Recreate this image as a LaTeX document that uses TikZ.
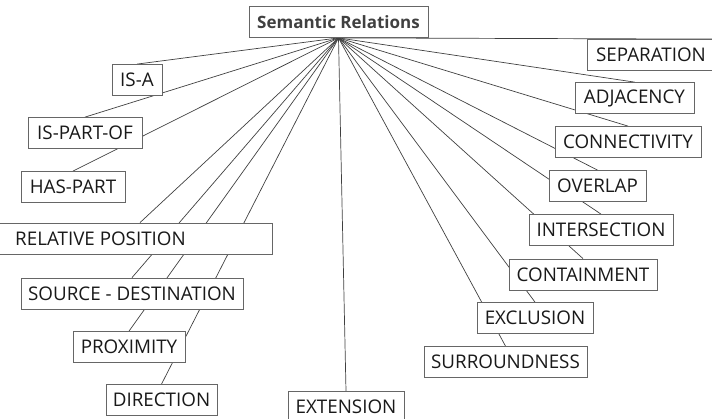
\documentclass[tikz,border=0pt]{standalone}
\usepackage{fontspec}
\setmainfont{Open Sans}
\usetikzlibrary{calc,backgrounds}

\begin{document}
\begin{tikzpicture}[x=1pt,y=-1pt,
  rel/.style={draw=black!60,fill=white,line width=0.8pt,minimum height=31pt,
    inner sep=0pt,text=black!90,font=\fontsize{18.8}{21}\selectfont},
  link/.style={draw=black!75,line width=0.7pt}]
  \useasboundingbox (0,0) rectangle (712,418);
  \node[rel,minimum width=179pt,text=black!75,
    font=\fontsize{17}{20}\selectfont\bfseries] (root) at (338.5,22) {Semantic Relations};
  % left side
  \foreach \n/\x/\y/\w/\t in {isa/137/80/50/IS-A, ispartof/85/133/114/IS-PART-OF,
      haspart/73/187/104/HAS-PART, relpos/100.5/238.5/343/RELATIVE POSITION,
      srcdest/132/293.5/222/SOURCE - DESTINATION, proximity/129/347/112/PROXIMITY,
      direction/161.5/400/111/DIRECTION, extension/346/407/116/EXTENSION}
    { \node[rel,minimum width=\w pt] (\n) at (\x,\y) {\t}; }
  % right side
  \foreach \n/\x/\y/\w/\t in {separation/651/55/128/SEPARATION,
      adjacency/634.5/98/119/ADJACENCY, connectivity/628/142/146/CONNECTIVITY,
      overlap/597.5/186/97/OVERLAP, intersection/601/230/144/INTERSECTION,
      containment/583/274.5/148/CONTAINMENT, exclusion/535/318/116/EXCLUSION,
      surroundness/505.5/362/163/SURROUNDNESS}
    { \node[rel,minimum width=\w pt] (\n) at (\x,\y) {\t}; }
  \begin{scope}[on background layer]
    \foreach \n in {isa,ispartof,haspart,srcdest,proximity,direction,extension,
        adjacency,connectivity,overlap,intersection,containment,exclusion,surroundness}
      { \draw[link] (root.south) -- (\n.north); }
    \draw[link] (root.south) -- ($(relpos.north)+(39.5,0)$);
    \draw[link] (root.south) -- (separation.north east);
  \end{scope}
\end{tikzpicture}
\end{document}
